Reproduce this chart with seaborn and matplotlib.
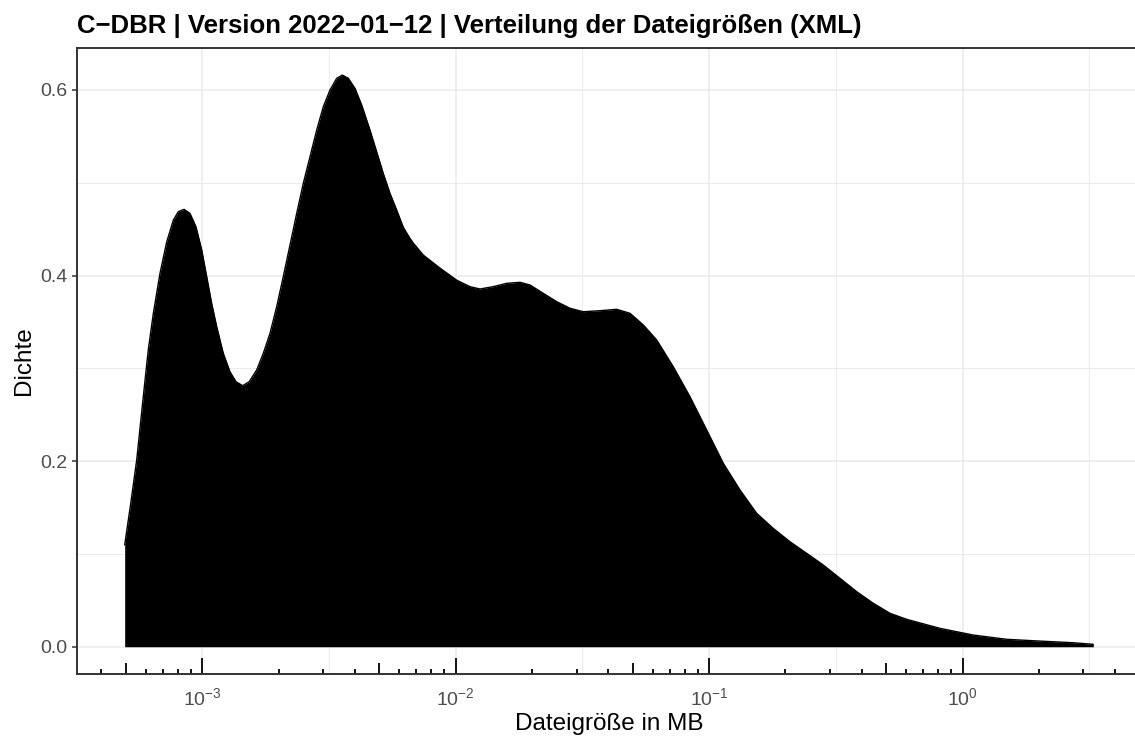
import numpy as np
import pandas as pd
import matplotlib
matplotlib.use("Agg")
import matplotlib.pyplot as plt
from matplotlib.ticker import (LogLocator, LogFormatterMathtext, NullFormatter,
                               NullLocator)
import seaborn as sns

# Kerndichte der Dateigrößen (x in MB, logarithmische Achse)
groesse_mb = [4.94e-4, 5.22e-4, 5.51e-4, 5.85e-4, 6.12e-4, 6.41e-4, 6.81e-4, 7.24e-4,
              7.69e-4, 8.04e-4, 8.47e-4, 8.94e-4, 9.44e-4, 9.95e-4,
              1.041e-3, 1.089e-3, 1.140e-3, 1.210e-3, 1.286e-3, 1.358e-3, 1.443e-3,
              1.532e-3, 1.639e-3, 1.741e-3, 1.850e-3, 1.966e-3, 2.087e-3, 2.219e-3,
              2.358e-3, 2.504e-3, 2.661e-3, 2.828e-3, 3.003e-3, 3.191e-3, 3.391e-3,
              3.569e-3, 3.769e-3, 4.005e-3, 4.256e-3, 4.589e-3, 4.877e-3, 5.178e-3,
              5.503e-3, 5.849e-3, 6.211e-3, 6.600e-3, 6.80e-3, 7.45e-3, 8.67e-3,
              1.009e-2, 1.138e-2, 1.247e-2, 1.407e-2, 1.590e-2, 1.794e-2, 1.965e-2,
              2.216e-2, 2.504e-2, 2.826e-2, 3.188e-2, 3.711e-2, 4.319e-2, 4.874e-2,
              5.500e-2, 6.213e-2, 7.222e-2, 8.405e-2, 9.784e-2,
              0.1138, 0.1324, 0.1541, 0.1792, 0.2086, 0.2428, 0.2823, 0.3286,
              0.3824, 0.4446, 0.5176, 0.6025, 0.815, 1.103, 1.494, 2.022, 2.737, 3.282]
dichte = [0.1096, 0.1545, 0.2012, 0.2694, 0.3197, 0.3593, 0.4024, 0.4364,
          0.4598, 0.4688, 0.4713, 0.4670, 0.4526, 0.4275,
          0.3987, 0.3700, 0.3448, 0.3162, 0.2963, 0.2856, 0.2813,
          0.2856, 0.2982, 0.3162, 0.3377, 0.3664, 0.3987, 0.4329,
          0.4670, 0.4994, 0.5280, 0.5568, 0.5819, 0.5999, 0.6125,
          0.6160, 0.6125, 0.6017, 0.5837, 0.5568, 0.5334, 0.5101,
          0.4886, 0.4706, 0.4520, 0.4400, 0.4350, 0.4220, 0.4080,
          0.3950, 0.3880, 0.3855, 0.3880, 0.3916, 0.3927, 0.3898,
          0.3808, 0.3718, 0.3647, 0.3610, 0.3621, 0.3636, 0.3593,
          0.3467, 0.3305, 0.3017, 0.2694, 0.2335,
          0.1976, 0.1689, 0.1437, 0.1275, 0.1131, 0.1006, 0.0880, 0.0737,
          0.0593, 0.0468, 0.0360, 0.0295, 0.0198, 0.0126, 0.0080, 0.0061, 0.0043, 0.0026]

titel = "C\u2212DBR | Version 2022\u221201\u221212 | Verteilung der Dateigrößen (XML)"
x_titel = "Dateigröße in MB"
y_titel = "Dichte"
y_ticks = [0.0, 0.2, 0.4, 0.6]
y_minor = [0.1, 0.3, 0.5]
x_halbdekaden = [-3.5, -2.5, -1.5, -0.5, 0.5]

sns.set_theme(style="white")
plt.rcParams["font.family"] = ["Liberation Sans", "DejaVu Sans"]
plt.rcParams["axes.unicode_minus"] = True

fig = plt.figure(figsize=(11.35, 7.38), dpi=100)
fig.patch.set_facecolor("white")
ax = fig.add_axes([76.6 / 1135, (738 - 674.3) / 738,
                   (1141 - 76.6) / 1135, (674.3 - 47.7) / 738])
ax.set_facecolor("white")

df = pd.DataFrame({"groesse": groesse_mb, "dichte": dichte})
ax.fill_between(df["groesse"], df["dichte"], 0, color="black", linewidth=0, zorder=2)
sns.lineplot(data=df, x="groesse", y="dichte", color="black", linewidth=1.0,
             sort=False, ax=ax, zorder=3)

ax.set_xscale("log")
ax.set_xlim(10 ** -3.496, 10 ** 0.7044)
ax.set_ylim(-0.0297, 0.6455)

# Gitterlinien
grid_col = "#EBEBEB"
ax.set_axisbelow(True)
ax.yaxis.set_major_locator(plt.FixedLocator(y_ticks))
ax.yaxis.set_minor_locator(plt.FixedLocator(y_minor))
ax.yaxis.set_major_formatter(plt.FuncFormatter(lambda v, p: f"{v:.1f}"))
ax.grid(True, which="major", color=grid_col, linewidth=1.1, zorder=0)
ax.yaxis.grid(True, which="minor", color=grid_col, linewidth=0.7, zorder=0)
for e in x_halbdekaden:
    ax.axvline(10 ** e, color=grid_col, linewidth=0.7, zorder=0)

# Logarithmische Striche an der unteren Achse
ax.xaxis.set_major_locator(LogLocator(base=10, numticks=20))
ax.xaxis.set_major_formatter(LogFormatterMathtext())
ax.xaxis.set_minor_locator(LogLocator(base=10, subs=[2, 3, 4, 6, 7, 8, 9], numticks=20))
ax.xaxis.set_minor_formatter(NullFormatter())
ax.tick_params(axis="x", which="major", direction="in", length=11.5, width=1.3,
               color="black", pad=9, labelsize=14, labelcolor="#4D4D4D", bottom=True)
ax.tick_params(axis="x", which="minor", direction="in", length=3.8, width=1.3,
               color="black", bottom=True)
mitte = ax.secondary_xaxis("bottom")
mitte.xaxis.set_major_locator(LogLocator(base=10, subs=[5], numticks=20))
mitte.xaxis.set_major_formatter(NullFormatter())
mitte.xaxis.set_minor_locator(NullLocator())
mitte.tick_params(axis="x", which="major", direction="in", length=7.6, width=1.3,
                  color="black")
mitte.spines["bottom"].set_visible(False)

ax.tick_params(axis="y", which="major", direction="out", length=3.6, width=1.1,
               color="#333333", pad=3, labelsize=14, labelcolor="#4D4D4D", left=True)
ax.tick_params(axis="y", which="minor", length=0)

for s in ax.spines.values():
    s.set_color("#333333")
    s.set_linewidth(1.4)

ax.set_xlabel(x_titel, fontsize=17.5, color="black")
ax.xaxis.label.set_va("baseline")
ax.xaxis.set_label_coords(0.5, -(730 - 674.3) / (674.3 - 47.7))
ax.set_ylabel(y_titel, fontsize=17.5, color="black")
ax.yaxis.label.set_va("baseline")
ax.yaxis.set_label_coords(-(76.6 - 30) / (1141 - 76.6), 0.5)

fig.text(76.6 / 1135, 1 - 33.3 / 738, titel, fontsize=18.5, fontweight="bold",
         color="black", ha="left", va="baseline")

fig.savefig("out.png", dpi=100, facecolor="white")
